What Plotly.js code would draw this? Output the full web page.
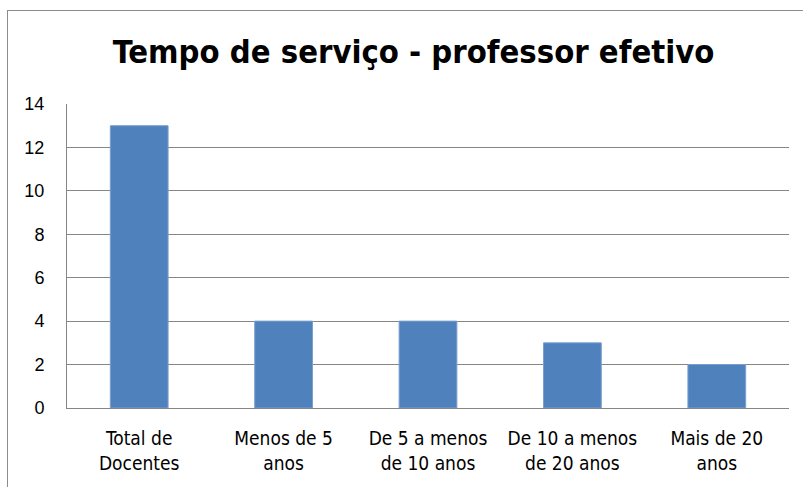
<!DOCTYPE html>
<html><head><meta charset="utf-8">
<script src="https://cdn.plot.ly/plotly-3.0.1.min.js"></script>
<style>
html,body{margin:0;padding:0;background:#fff;overflow:hidden;}
#wrap{position:relative;width:803px;height:487px;}
#chart{width:803px;height:487px;}
#frame{position:absolute;left:7px;top:10px;width:900px;height:600px;border:1px solid #8c8c8c;pointer-events:none;}
</style></head>
<body><div id="wrap"><div id="chart"></div><div id="frame"></div></div>
<script>
var categories = ["Total de Docentes","Menos de 5 anos","De 5 a menos de 10 anos","De 10 a menos de 20 anos","Mais de 20 anos"];
var tickLabels = ["Total de<br>Docentes","Menos de 5<br>anos","De 5 a menos<br>de 10 anos","De 10 a menos<br>de 20 anos","Mais de 20<br>anos"];
var values = [13,4,4,3,2];

var trace = {
  type:'bar', x:categories, y:values,
  marker:{color:'#4f81bd', line:{color:'#7a9fd0', width:1}},
  width:0.4, hoverinfo:'skip'
};
var layout = {
  width:803, height:487,
  margin:{l:67, r:14, t:104, b:79},
  paper_bgcolor:'rgba(0,0,0,0)', plot_bgcolor:'#fff',
  title:{text:'<b>Tempo de serviço - professor efetivo</b>', x:0.515, xanchor:'center', y:0.893, yanchor:'middle',
    font:{family:'"Liberation Sans Narrow","DejaVu Sans Condensed",sans-serif', size:32.5, color:'#000'}},
  showlegend:false,
  xaxis:{tickvals:categories, ticktext:tickLabels, showgrid:false, showline:true, linecolor:'#868686', linewidth:1,
    ticks:'outside', ticklen:13, tickcolor:'rgba(0,0,0,0)',
    tickfont:{family:'"Liberation Sans Narrow","DejaVu Sans Condensed",sans-serif', size:19, color:'#000'}, fixedrange:true},
  yaxis:{range:[0,14], dtick:2, showgrid:true, gridcolor:'#868686', gridwidth:1, showline:true, linecolor:'#868686', linewidth:1,
    zeroline:false, ticks:'outside', ticklen:18, tickcolor:'rgba(0,0,0,0)',
    tickfont:{family:'"Liberation Sans","Open Sans",sans-serif', size:18, color:'#000'}, fixedrange:true}
};
Plotly.newPlot('chart',[trace],layout,{displayModeBar:false, staticPlot:true});
</script></body></html>
